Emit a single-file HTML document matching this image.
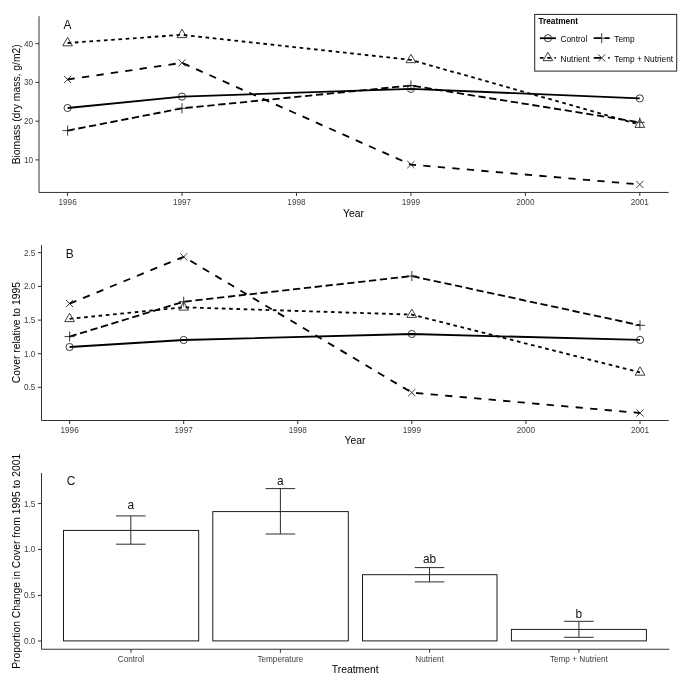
<!DOCTYPE html>
<html><head><meta charset="utf-8"><title>Figure</title>
<style>
html,body{margin:0;padding:0;background:#fff;}
svg{display:block;will-change:transform;font-family:"Liberation Sans",sans-serif;}
.tk text{font-size:8.2px;fill:#404040;}
.ti{font-size:10.35px;fill:#000;}
.lb{font-size:11.9px;fill:#111;}
.lg{font-size:8.3px;fill:#000;}
</style></head><body>
<svg width="685" height="678" viewBox="0 0 685 678">
<rect width="685" height="678" fill="#fff"/>
<polyline points="67.60,108.00 182.00,96.60 410.90,88.90 639.80,98.40" fill="none" stroke="#000" stroke-width="1.8204" stroke-linejoin="round"/>
<polyline points="67.60,43.00 182.00,34.80 410.90,59.90 639.80,124.60" fill="none" stroke="#000" stroke-width="1.8204" stroke-dasharray="3.64 3.64" stroke-linejoin="round"/>
<polyline points="67.60,130.60 182.00,108.30 410.90,85.50 639.80,122.30" fill="none" stroke="#000" stroke-width="1.8204" stroke-dasharray="7.28 3.64" stroke-linejoin="round"/>
<polyline points="67.60,79.50 182.00,62.85 410.90,164.60 639.80,184.50" fill="none" stroke="#000" stroke-width="1.8204" stroke-dasharray="7.28 7.28" stroke-linejoin="round"/>
<g fill="none" stroke="#1a1a1a" stroke-width="0.85">
<circle cx="67.60" cy="108.00" r="3.6" />
<circle cx="182.00" cy="96.60" r="3.6" />
<circle cx="410.90" cy="88.90" r="3.6" />
<circle cx="639.80" cy="98.40" r="3.6" />
<path d="M67.60 37.40L72.45 45.80L62.75 45.80Z" />
<path d="M182.00 29.20L186.85 37.60L177.15 37.60Z" />
<path d="M410.90 54.30L415.75 62.70L406.05 62.70Z" />
<path d="M639.80 119.00L644.65 127.40L634.95 127.40Z" />
<path d="M62.51 130.60H72.69M67.60 125.51V135.69" />
<path d="M176.91 108.30H187.09M182.00 103.21V113.39" />
<path d="M405.81 85.50H415.99M410.90 80.41V90.59" />
<path d="M634.71 122.30H644.89M639.80 117.21V127.39" />
<path d="M64.00 75.90L71.20 83.10M64.00 83.10L71.20 75.90" />
<path d="M178.40 59.25L185.60 66.45M178.40 66.45L185.60 59.25" />
<path d="M407.30 161.00L414.50 168.20M407.30 168.20L414.50 161.00" />
<path d="M636.20 180.90L643.40 188.10M636.20 188.10L643.40 180.90" />
</g>
<path d="M39.0 16.2V192.45H668.6" fill="none" stroke="#333" stroke-width="1"/>
<g stroke="#333" stroke-width="1">
<line x1="35.4" x2="39.0" y1="43.7" y2="43.7"/>
<line x1="35.4" x2="39.0" y1="82.4" y2="82.4"/>
<line x1="35.4" x2="39.0" y1="121.2" y2="121.2"/>
<line x1="35.4" x2="39.0" y1="159.9" y2="159.9"/>
<line x1="67.60" x2="67.60" y1="192.45" y2="195.95"/>
<line x1="182.04" x2="182.04" y1="192.45" y2="195.95"/>
<line x1="296.48" x2="296.48" y1="192.45" y2="195.95"/>
<line x1="410.92" x2="410.92" y1="192.45" y2="195.95"/>
<line x1="525.36" x2="525.36" y1="192.45" y2="195.95"/>
<line x1="639.80" x2="639.80" y1="192.45" y2="195.95"/>
</g>
<g class="tk">
<text x="33.0" y="46.60" text-anchor="end">40</text>
<text x="33.0" y="85.30" text-anchor="end">30</text>
<text x="33.0" y="124.10" text-anchor="end">20</text>
<text x="33.0" y="162.80" text-anchor="end">10</text>
<text x="67.60" y="204.7" text-anchor="middle">1996</text>
<text x="182.04" y="204.7" text-anchor="middle">1997</text>
<text x="296.48" y="204.7" text-anchor="middle">1998</text>
<text x="410.92" y="204.7" text-anchor="middle">1999</text>
<text x="525.36" y="204.7" text-anchor="middle">2000</text>
<text x="639.80" y="204.7" text-anchor="middle">2001</text>
</g>
<text class="ti" text-anchor="middle" transform="translate(19.6 104.3) rotate(-90)">Biomass (dry mass, g/m2)</text>
<text class="ti" text-anchor="middle" x="353.5" y="216.7">Year</text>
<text class="lb" text-anchor="middle" x="67.4" y="28.7">A</text>
<polyline points="69.60,347.00 183.70,340.00 411.80,334.00 640.00,339.90" fill="none" stroke="#000" stroke-width="1.8204" stroke-linejoin="round"/>
<polyline points="69.60,318.80 183.70,307.30 411.80,314.60 640.00,372.40" fill="none" stroke="#000" stroke-width="1.8204" stroke-dasharray="3.64 3.64" stroke-linejoin="round"/>
<polyline points="69.60,336.60 183.70,301.70 411.80,276.10 640.00,325.30" fill="none" stroke="#000" stroke-width="1.8204" stroke-dasharray="7.28 3.64" stroke-linejoin="round"/>
<polyline points="69.60,303.60 183.70,256.80 411.80,392.60 640.00,413.00" fill="none" stroke="#000" stroke-width="1.8204" stroke-dasharray="7.28 7.28" stroke-linejoin="round"/>
<g fill="none" stroke="#1a1a1a" stroke-width="0.85">
<circle cx="69.60" cy="347.00" r="3.6" />
<circle cx="183.70" cy="340.00" r="3.6" />
<circle cx="411.80" cy="334.00" r="3.6" />
<circle cx="640.00" cy="339.90" r="3.6" />
<path d="M69.60 313.20L74.45 321.60L64.75 321.60Z" />
<path d="M183.70 301.70L188.55 310.10L178.85 310.10Z" />
<path d="M411.80 309.00L416.65 317.40L406.95 317.40Z" />
<path d="M640.00 366.80L644.85 375.20L635.15 375.20Z" />
<path d="M64.51 336.60H74.69M69.60 331.51V341.69" />
<path d="M178.61 301.70H188.79M183.70 296.61V306.79" />
<path d="M406.71 276.10H416.89M411.80 271.01V281.19" />
<path d="M634.91 325.30H645.09M640.00 320.21V330.39" />
<path d="M66.00 300.00L73.20 307.20M66.00 307.20L73.20 300.00" />
<path d="M180.10 253.20L187.30 260.40M180.10 260.40L187.30 253.20" />
<path d="M408.20 389.00L415.40 396.20M408.20 396.20L415.40 389.00" />
<path d="M636.40 409.40L643.60 416.60M636.40 416.60L643.60 409.40" />
</g>
<path d="M41.5 245.0V420.5H668.7" fill="none" stroke="#333" stroke-width="1"/>
<g stroke="#333" stroke-width="1">
<line x1="37.9" x2="41.5" y1="252.7" y2="252.7"/>
<line x1="37.9" x2="41.5" y1="286.4" y2="286.4"/>
<line x1="37.9" x2="41.5" y1="320.1" y2="320.1"/>
<line x1="37.9" x2="41.5" y1="353.7" y2="353.7"/>
<line x1="37.9" x2="41.5" y1="387.3" y2="387.3"/>
<line x1="69.60" x2="69.60" y1="420.5" y2="424.0"/>
<line x1="183.68" x2="183.68" y1="420.5" y2="424.0"/>
<line x1="297.76" x2="297.76" y1="420.5" y2="424.0"/>
<line x1="411.84" x2="411.84" y1="420.5" y2="424.0"/>
<line x1="525.92" x2="525.92" y1="420.5" y2="424.0"/>
<line x1="640.00" x2="640.00" y1="420.5" y2="424.0"/>
</g>
<g class="tk">
<text x="35.3" y="255.60" text-anchor="end">2.5</text>
<text x="35.3" y="289.30" text-anchor="end">2.0</text>
<text x="35.3" y="323.00" text-anchor="end">1.5</text>
<text x="35.3" y="356.60" text-anchor="end">1.0</text>
<text x="35.3" y="390.20" text-anchor="end">0.5</text>
<text x="69.60" y="433.0" text-anchor="middle">1996</text>
<text x="183.68" y="433.0" text-anchor="middle">1997</text>
<text x="297.76" y="433.0" text-anchor="middle">1998</text>
<text x="411.84" y="433.0" text-anchor="middle">1999</text>
<text x="525.92" y="433.0" text-anchor="middle">2000</text>
<text x="640.00" y="433.0" text-anchor="middle">2001</text>
</g>
<text class="ti" text-anchor="middle" transform="translate(19.6 332.6) rotate(-90)">Cover relative to 1995</text>
<text class="ti" text-anchor="middle" x="355.0" y="443.9">Year</text>
<text class="lb" text-anchor="middle" x="69.8" y="257.8">B</text>
<g fill="#fff" stroke="#111" stroke-width="0.95">
<rect x="63.5" y="530.4" width="135.20" height="110.50"/>
<rect x="212.8" y="511.6" width="135.50" height="129.30"/>
<rect x="362.5" y="574.7" width="134.50" height="66.20"/>
<rect x="511.4" y="629.4" width="135.00" height="11.50"/>
</g>
<g fill="none" stroke="#222" stroke-width="0.95">
<path d="M116.00 515.9H145.60M116.00 544.2H145.60M130.8 515.9V544.2"/>
<path d="M265.60 488.6H295.20M265.60 534.0H295.20M280.4 488.6V534.0"/>
<path d="M414.70 567.6H444.30M414.70 581.9H444.30M429.5 567.6V581.9"/>
<path d="M564.10 621.3H593.70M564.10 637.3H593.70M578.9 621.3V637.3"/>
</g>
<text class="lb" text-anchor="middle" x="130.8" y="508.6">a</text>
<text class="lb" text-anchor="middle" x="280.4" y="484.8">a</text>
<text class="lb" text-anchor="middle" x="429.5" y="563.1">ab</text>
<text class="lb" text-anchor="middle" x="578.9" y="617.8">b</text>
<path d="M41.5 473.1V649.25H669.2" fill="none" stroke="#333" stroke-width="1"/>
<g stroke="#333" stroke-width="1">
<line x1="37.9" x2="41.5" y1="503.6" y2="503.6"/>
<line x1="37.9" x2="41.5" y1="549.5" y2="549.5"/>
<line x1="37.9" x2="41.5" y1="595.4" y2="595.4"/>
<line x1="37.9" x2="41.5" y1="641.0" y2="641.0"/>
<line x1="131.0" x2="131.0" y1="649.25" y2="652.75"/>
<line x1="280.4" x2="280.4" y1="649.25" y2="652.75"/>
<line x1="429.6" x2="429.6" y1="649.25" y2="652.75"/>
<line x1="578.9" x2="578.9" y1="649.25" y2="652.75"/>
</g><g class="tk">
<text x="35.3" y="506.50" text-anchor="end">1.5</text>
<text x="35.3" y="552.40" text-anchor="end">1.0</text>
<text x="35.3" y="598.30" text-anchor="end">0.5</text>
<text x="35.3" y="643.90" text-anchor="end">0.0</text>
<text x="131.0" y="662.1" text-anchor="middle">Control</text>
<text x="280.4" y="662.1" text-anchor="middle">Temperature</text>
<text x="429.6" y="662.1" text-anchor="middle">Nutrient</text>
<text x="578.9" y="662.1" text-anchor="middle">Temp + Nutrient</text>
</g>
<text class="ti" text-anchor="middle" transform="translate(19.6 561.3) rotate(-90)">Proportion Change in Cover from 1995 to 2001</text>
<text class="ti" text-anchor="middle" x="355.2" y="672.8">Treatment</text>
<text class="lb" text-anchor="middle" x="71.0" y="485.4">C</text>
<rect x="534.7" y="14.4" width="142.0" height="56.7" fill="#fff" stroke="#222" stroke-width="1"/>
<text class="lg" x="538.4" y="23.8" font-weight="bold">Treatment</text>
<line x1="539.9" x2="555.9" y1="38.2" y2="38.2" stroke="#000" stroke-width="1.8204"/>
<g fill="none" stroke="#1a1a1a" stroke-width="0.85"><circle cx="547.90" cy="38.20" r="3.6" /></g>
<text class="lg" x="560.5" y="41.8">Control</text>
<line x1="539.9" x2="555.9" y1="57.9" y2="57.9" stroke="#000" stroke-width="1.8204" stroke-dasharray="3.64 3.64"/>
<g fill="none" stroke="#1a1a1a" stroke-width="0.85"><path d="M547.90 52.30L552.75 60.70L543.05 60.70Z" /></g>
<text class="lg" x="560.5" y="61.5">Nutrient</text>
<line x1="593.7" x2="609.7" y1="38.2" y2="38.2" stroke="#000" stroke-width="1.8204" stroke-dasharray="7.28 3.64"/>
<g fill="none" stroke="#1a1a1a" stroke-width="0.85"><path d="M596.61 38.20H606.79M601.70 33.11V43.29" /></g>
<text class="lg" x="614.3" y="41.8">Temp</text>
<line x1="593.7" x2="609.7" y1="57.9" y2="57.9" stroke="#000" stroke-width="1.8204" stroke-dasharray="7.28 7.28"/>
<g fill="none" stroke="#1a1a1a" stroke-width="0.85"><path d="M598.10 54.30L605.30 61.50M598.10 61.50L605.30 54.30" /></g>
<text class="lg" x="614.3" y="61.5">Temp + Nutrient</text>
</svg></body></html>
